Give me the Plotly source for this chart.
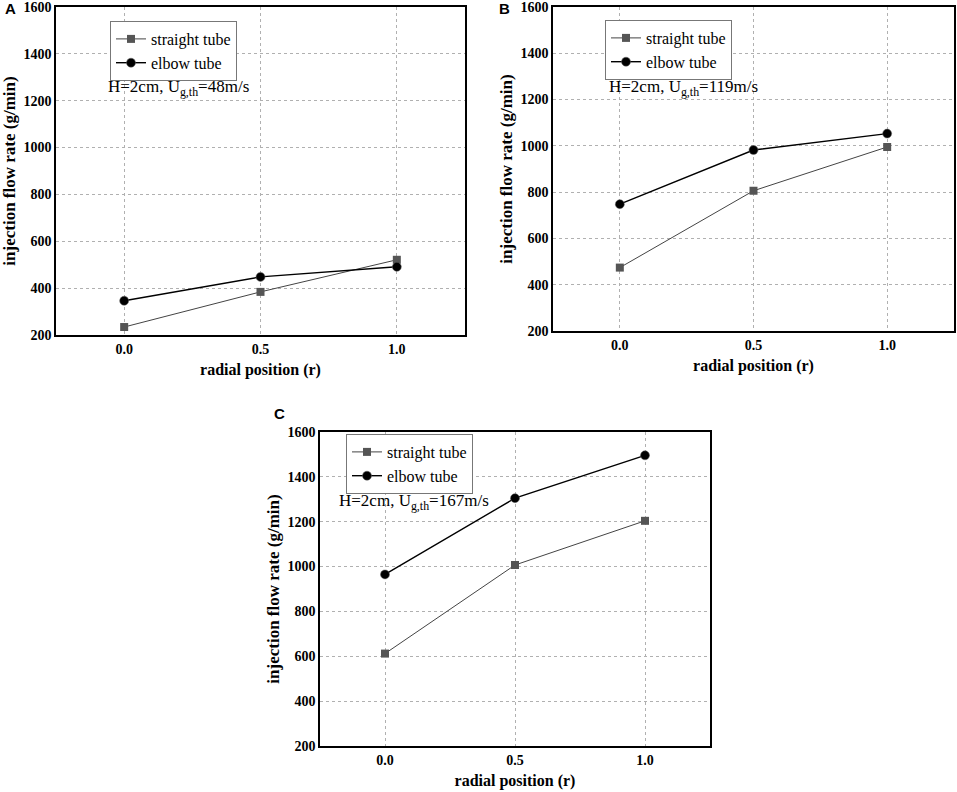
import plotly.graph_objects as go

radial_position = [0.0, 0.5, 1.0]
x_tick_vals = [0.0, 0.5, 1.0]
x_tick_text = ["0.0", "0.5", "1.0"]
y_tick_vals = [200, 400, 600, 800, 1000, 1200, 1400, 1600]

straight_A = [234, 384, 521]
elbow_A = [346, 448, 491]
straight_B = [474, 806, 995]
elbow_B = [748, 982, 1053]
straight_C = [612, 1007, 1204]
elbow_C = [965, 1305, 1496]

panel_labels = ["A", "B", "C"]
velocity_labels = ["48m/s", "119m/s", "167m/s"]

W, H = 957, 792
FONT = "Liberation Serif, Times New Roman, serif"

# pixel boxes (left, right, top, bottom)
boxes = [(56, 465, 7, 335), (553, 954, 7, 331), (320, 710, 432, 746)]
legend_pos = [(110, 21), (605, 20), (346, 434)]
anno_pos = [(106, 88), (607, 88), (337, 502)]
label_pos = [(3, 9), (497, 9), (272, 413)]

fig = go.Figure()
data = [(straight_A, elbow_A), (straight_B, elbow_B), (straight_C, elbow_C)]
annos = []
for i, (s, e) in enumerate(data):
    sfx = "" if i == 0 else str(i + 1)
    leg = "legend" if i == 0 else f"legend{i+1}"
    fig.add_trace(go.Scatter(
        x=radial_position, y=s, name="straight tube", mode="lines+markers",
        line=dict(color="#444444", width=1),
        marker=dict(symbol="square", size=8, color="#555555"),
        xaxis="x" + sfx, yaxis="y" + sfx, legend=leg))
    fig.add_trace(go.Scatter(
        x=radial_position, y=e, name="elbow tube", mode="lines+markers",
        line=dict(color="#000000", width=1.4),
        marker=dict(symbol="circle", size=9, color="#000000",
                    line=dict(color="#666666", width=0.5)),
        xaxis="x" + sfx, yaxis="y" + sfx, legend=leg))
    l, r, t, b = boxes[i]
    ax = dict(domain=[l / W, r / W], range=[-0.25, 1.25],
              tickvals=x_tick_vals, ticktext=x_tick_text,
              showgrid=True, gridcolor="#b0b0b0", griddash="dot", gridwidth=1,
              showline=True, linecolor="black", linewidth=1.5, mirror=True,
              ticks="", zeroline=False, automargin=False,
              ticklabeloverflow="allow",
              tickfont=dict(family=FONT, size=14, color="black", weight="bold"),
              title=dict(text="<b>radial position (r)</b>", standoff=8,
                         font=dict(family=FONT, size=16, color="black")),
              anchor="y" + sfx)
    ay = dict(domain=[1 - b / H, 1 - t / H], range=[200, 1600],
              tickvals=y_tick_vals,
              showgrid=True, gridcolor="#b0b0b0", griddash="dot", gridwidth=1,
              showline=True, linecolor="black", linewidth=1.5, mirror=True,
              ticks="", zeroline=False, automargin=False,
              ticklabeloverflow="allow",
              tickfont=dict(family=FONT, size=14, color="black", weight="bold"),
              title=dict(text="<b>injection flow rate (g/min)</b>", standoff=4,
                         font=dict(family=FONT, size=17, color="black")),
              anchor="x" + sfx)
    fig.update_layout(**{"xaxis" + sfx: ax, "yaxis" + sfx: ay})
    lx, ly = legend_pos[i]
    fig.update_layout(**{leg: dict(
        x=lx / W, y=1 - ly / H, xanchor="left", yanchor="top",
        bordercolor="#777777", borderwidth=1, bgcolor="white",
        font=dict(family=FONT, size=16, color="black"),
        tracegroupgap=0, itemwidth=30)})
    axx, axy = anno_pos[i]
    annos.append(dict(
        x=axx / W, y=1 - axy / H, xref="paper", yref="paper",
        xanchor="left", yanchor="middle", showarrow=False,
        text="H=2cm, U<sub>g,th</sub>=" + velocity_labels[i],
        font=dict(family=FONT, size=17, color="black")))
    px_, py_ = label_pos[i]
    annos.append(dict(
        x=px_ / W, y=1 - py_ / H, xref="paper", yref="paper",
        xanchor="left", yanchor="middle", showarrow=False,
        text="<b>" + panel_labels[i] + "</b>",
        font=dict(family="Liberation Sans", size=15, color="black")))

fig.update_layout(width=W, height=H, margin=dict(l=0, r=0, t=0, b=0, autoexpand=False),
                  paper_bgcolor="white", plot_bgcolor="white",
                  annotations=annos)
fig.write_html("out.html", config={"displayModeBar": False},
               post_script="document.body.style.margin='0';document.body.style.overflow='hidden';")
